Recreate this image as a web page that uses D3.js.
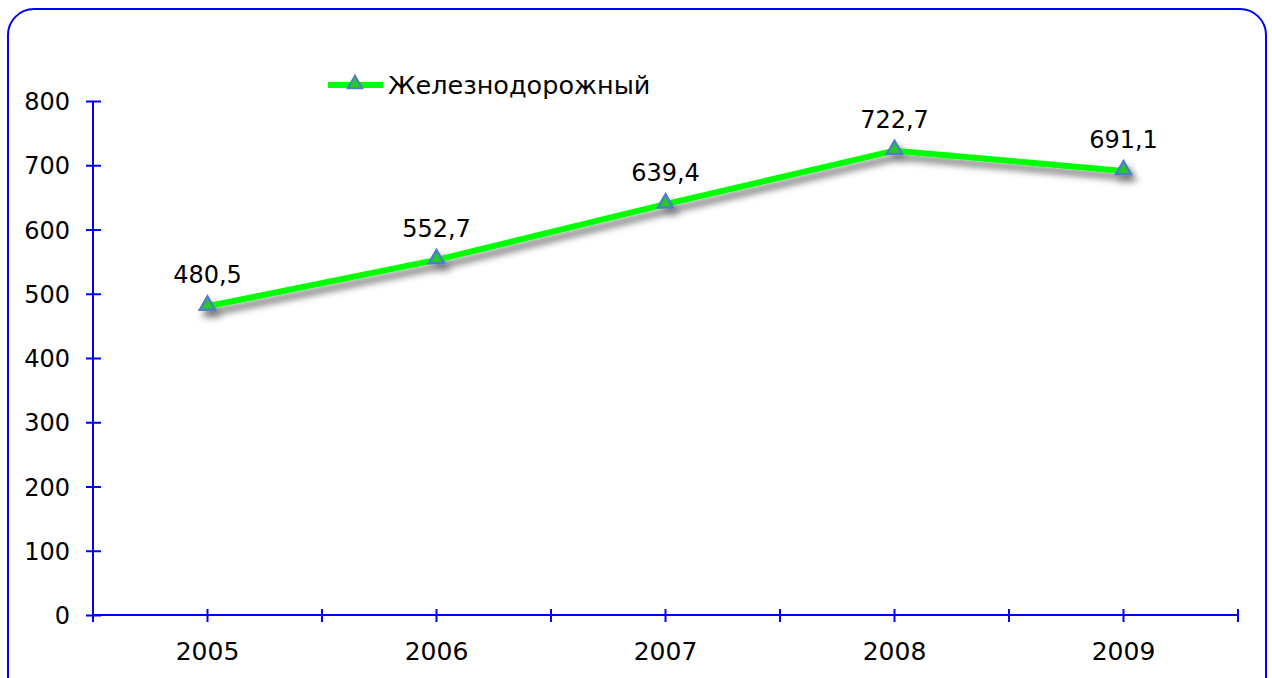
<!DOCTYPE html>
<html>
<head>
<meta charset="utf-8">
<script src="https://cdn.jsdelivr.net/npm/d3@7"></script>
<style>
  body { margin: 0; background: #fff; }
  svg text { font-family: "DejaVu Sans", Verdana, sans-serif; fill: #000; }
</style>
</head>
<body>
<div id="chart"></div>
<script>
// chart data
var years = ["2005", "2006", "2007", "2008", "2009"];
var values = [480.5, 552.7, 639.4, 722.7, 691.1];
var yTicks = [0, 100, 200, 300, 400, 500, 600, 700, 800];
var seriesName = "Железнодорожный";

var svgWidth = 1272;
var svgHeight = 678;

// plot area, in page pixels
var plot = { left: 93, right: 1238, top: 101, bottom: 615 };

var svg = d3.select("#chart")
  .append("svg")
    .attr("width", svgWidth)
    .attr("height", svgHeight);

// shadow under the line
var defs = svg.append("defs");
var filter = defs.append("filter")
    .attr("id", "shadow")
    .attr("x", "-20%").attr("y", "-20%")
    .attr("width", "140%").attr("height", "160%");
filter.append("feDropShadow")
    .attr("dx", 4).attr("dy", 6)
    .attr("stdDeviation", 3.5)
    .attr("flood-color", "#000")
    .attr("flood-opacity", 0.55);

// outer frame
svg.append("rect")
    .attr("x", 8).attr("y", 9)
    .attr("width", 1258).attr("height", 700)
    .attr("rx", 26).attr("ry", 26)
    .attr("fill", "none")
    .attr("stroke", "#0000ff")
    .attr("stroke-width", 2);

var x = d3.scaleBand()
    .domain(years)
    .range([plot.left, plot.right]);

var y = d3.scaleLinear()
    .domain([0, 800])
    .range([plot.bottom, plot.top]);

function cx(d, i) { return x(years[i]) + x.bandwidth() / 2; }

// Y axis
var yAxis = svg.append("g")
    .attr("transform", "translate(" + plot.left + ",0)")
    .call(d3.axisLeft(y).tickValues(yTicks).tickSize(0).tickPadding(23));
yAxis.select(".domain").remove();
yAxis.selectAll("text")
    .style("font-size", "24px")
    .attr("dy", "0.36em");
yAxis.append("line")
    .attr("x1", 0).attr("x2", 0)
    .attr("y1", plot.top).attr("y2", plot.bottom)
    .attr("stroke", "#0000ff").attr("stroke-width", 2);
yAxis.selectAll(".tick").append("line")
    .attr("x1", -7).attr("x2", 8)
    .attr("stroke", "#0000ff").attr("stroke-width", 2);

// X axis
var xAxis = svg.append("g")
    .attr("transform", "translate(0," + plot.bottom + ")")
    .call(d3.axisBottom(x).tickSize(0).tickPadding(27));
xAxis.select(".domain").remove();
xAxis.selectAll("text")
    .style("font-size", "25px")
    .attr("dy", "0.71em");
xAxis.append("line")
    .attr("x1", plot.left).attr("x2", plot.right)
    .attr("stroke", "#0000ff").attr("stroke-width", 2);
// tick marks at band edges and centres
var tickPos = d3.range(0, years.length * 2 + 1).map(function(k) {
  return plot.left + k * x.bandwidth() / 2;
});
xAxis.selectAll(".xtick")
  .data(tickPos)
  .enter()
  .append("line")
    .attr("class", "xtick")
    .attr("x1", function(d) { return d; })
    .attr("x2", function(d) { return d; })
    .attr("y1", -6).attr("y2", 7)
    .attr("stroke", "#0000ff").attr("stroke-width", 2);

// line + markers
var line = d3.line()
    .x(cx)
    .y(function(d) { return y(d); });

var series = svg.append("g").attr("filter", "url(#shadow)");
series.append("path")
    .datum(values)
    .attr("d", line)
    .attr("fill", "none")
    .attr("stroke", "#00ff00")
    .attr("stroke-width", 6)
    .attr("stroke-linejoin", "round");

var tri = d3.symbol().type(d3.symbolTriangle).size(100);
series.selectAll(".marker")
  .data(values)
  .enter()
  .append("path")
    .attr("class", "marker")
    .attr("d", tri)
    .attr("transform", function(d, i) {
      return "translate(" + cx(d, i) + "," + (y(d) - 1) + ")";
    })
    .attr("fill", "#22cc22")
    .attr("stroke", "#4f7fc0")
    .attr("stroke-width", 2.5);

// data labels
svg.selectAll(".label")
  .data(values)
  .enter()
  .append("text")
    .attr("class", "label")
    .attr("x", cx)
    .attr("y", function(d) { return y(d) - 23; })
    .attr("text-anchor", "middle")
    .style("font-size", "24px")
    .text(function(d) { return d3.format(".1f")(d).replace(".", ","); });

// legend
var legend = svg.append("g").attr("transform", "translate(328,85)");
legend.append("line")
    .attr("x1", 0).attr("x2", 55)
    .attr("stroke", "#00ff00").attr("stroke-width", 6);
legend.append("path")
    .attr("d", d3.symbol().type(d3.symbolTriangle).size(90))
    .attr("transform", "translate(27,-1)")
    .attr("fill", "#22cc22")
    .attr("stroke", "#4f7fc0")
    .attr("stroke-width", 2);
legend.append("text")
    .attr("x", 60)
    .attr("y", 9)
    .style("font-size", "25.5px")
    .text(seriesName);
</script>
</body>
</html>
